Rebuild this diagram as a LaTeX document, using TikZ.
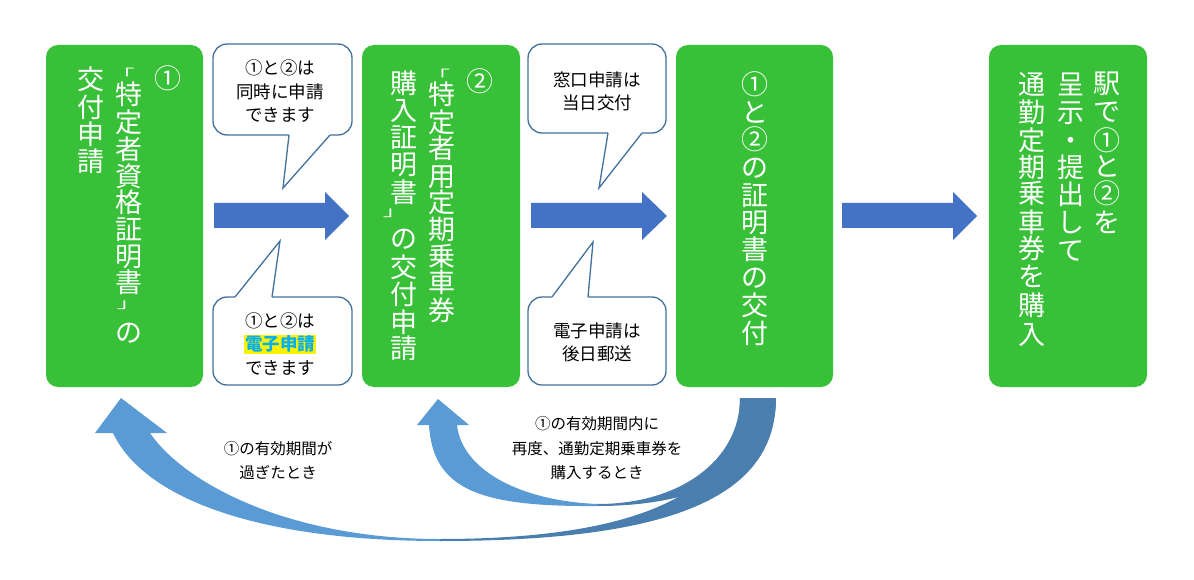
\documentclass[tikz,border=0pt]{standalone}
\usepackage{fontspec}
\usepackage{graphicx}
\setmainfont{Noto Sans CJK JP}
\setlength{\fboxsep}{1pt}
\definecolor{boxgreen}{RGB}{56,192,56}
\definecolor{arrowblue}{RGB}{68,114,196}
\definecolor{curvelight}{RGB}{91,155,213}
\definecolor{curvedark}{RGB}{74,126,174}
\definecolor{calloutline}{RGB}{65,113,156}
\definecolor{hlcyan}{RGB}{0,176,240}
\newcommand\smb[1]{\scalebox{0.9}[0.5]{#1}}
\tikzset{
  gbox/.style={fill=boxgreen, draw=none, rounded corners=12pt, inner sep=0pt},
  vt/.style={text=white, inner sep=0pt, font=\fontsize{27}{27}\selectfont, text height=23.8pt, text depth=3.2pt},
  cbox/.style={fill=white, draw=calloutline, line width=1.3pt, rounded corners=14pt, inner sep=0pt},
  ctext/.style={align=center, font=\fontsize{17.5}{23.5}\selectfont, inner sep=0pt},
  cline/.style={draw=calloutline, line width=1.3pt, line join=miter},
  lbl/.style={align=center, font=\fontsize{15.5}{24.5}\selectfont, inner sep=0pt},
}
\begin{document}
\begin{tikzpicture}[x=1pt,y=-1pt]
\useasboundingbox (0,0) rectangle (1194,580);

% green boxes
\node[gbox, minimum width=157, minimum height=342] (b1) at (124.5,216) {};
\node[gbox, minimum width=158, minimum height=342] (b2) at (441,216) {};
\node[gbox, minimum width=157, minimum height=342] (b3) at (754.5,216) {};
\node[gbox, minimum width=158, minimum height=342] (b4) at (1068,216) {};

% box 1 text
\node[vt] (b1n) at (167.5,78) {①};
\node[vt] (b1o) at (122.5,69) {\smb{「}};
\foreach \c/\y [count=\i] in {特/94,定/122,者/149,資/176,格/202,証/229,明/256,書/282,の/332}
  \node[vt] (b1a\i) at (128.5,\y) {\c};
\node[vt] (b1c) at (129,298) {\smb{」}};
\foreach \c/\y [count=\i] in {交/79,付/107,申/134,請/161}
  \node[vt] (b1b\i) at (91,\y) {\c};

% box 2 text
\node[vt] (b2n) at (480,81) {②};
\node[vt] (b2o) at (438,70.5) {\smb{「}};
\foreach \c/\y [count=\i] in {特/94,定/122,者/148,用/176,定/202,期/229,乗/256,車/282,券/310}
  \node[vt] (b2a\i) at (442,\y) {\c};
\foreach \c/\y [count=\i] in {購/83,入/110,証/137,明/164,書/192,の/238,交/267,付/294,申/322,請/348}
  \node[vt] (b2b\i) at (404,\y) {\c};
\node[vt] (b2c) at (395,206.5) {\smb{」}};

% box 3 text
\foreach \c/\y [count=\i] in {①/84,と/112,②/139,の/167,証/195,明/222,書/249,の/277,交/305,付/333}
  \node[vt] (b3a\i) at (754.5,\y) {\c};

% box 4 text
\foreach \c/\y [count=\i] in {駅/83,で/111,①/140,と/166,②/193,を/222}
  \node[vt] (b4a\i) at (1107,\y) {\c};
\foreach \c/\y [count=\i] in {呈/84,示/112,・/140,提/167,出/194,し/222,て/250}
  \node[vt] (b4b\i) at (1071,\y) {\c};
\foreach \c/\y [count=\i] in {通/84,勤/112,定/140,期/167,乗/193,車/222,券/248,を/276,購/305,入/334}
  \node[vt] (b4c\i) at (1032,\y) {\c};

% straight block arrows
\fill[arrowblue] (214,203) -- (325,203) -- (325,192) -- (349,216) -- (325,240) -- (325,228) -- (214,228) -- cycle;
\fill[arrowblue] (531,203) -- (642,203) -- (642,192) -- (667,216) -- (642,240) -- (642,228) -- (531,228) -- cycle;
\fill[arrowblue] (842,203) -- (953,203) -- (953,192) -- (977,216) -- (953,240) -- (953,228) -- (842,228) -- cycle;

% callouts
\node[cbox, minimum width=139, minimum height=91] (c1) at (282.5,89.5) {};
\coordinate (c1tip) at (283,188);
\fill[white] (289,130) -- (289,135) -- (c1tip) -- (330,135) -- (330,130) -- cycle;
\draw[cline] (289,135) -- (c1tip) -- (330,135);
\node[ctext] (c1t) at (280,91.5) {①と②は\\同時に申請\\できます};

\node[cbox, minimum width=139, minimum height=88] (c2) at (282.5,341) {};
\coordinate (c2tip) at (280,241);
\fill[white] (235,302) -- (235,297) -- (c2tip) -- (272,297) -- (272,302) -- cycle;
\draw[cline] (235,297) -- (c2tip) -- (272,297);
\node[ctext] (c2t) at (280,344) {①と②は\\\colorbox{yellow}{\color{hlcyan}\bfseries 電子申請}\\できます};

\node[cbox, minimum width=138, minimum height=89] (c3) at (597,88.5) {};
\coordinate (c3tip) at (599,188);
\fill[white] (608,128) -- (608,133) -- (c3tip) -- (642,133) -- (642,128) -- cycle;
\draw[cline] (608,133) -- (c3tip) -- (642,133);
\node[ctext] (c3t) at (597,91.5) {窓口申請は\\当日交付};

\node[cbox, minimum width=138, minimum height=88] (c4) at (597,341) {};
\coordinate (c4tip) at (593,242);
\fill[white] (552,302) -- (552,297) -- (c4tip) -- (588,297) -- (588,302) -- cycle;
\draw[cline] (552,297) -- (c4tip) -- (588,297);
\node[ctext] (c4t) at (597,342.5) {電子申請は\\後日郵送};

% big curved up arrow (back to box 1)
\fill[curvedark] (440,539) .. controls (640,539) and (740,492) .. (740,398) -- (776,398)
  .. controls (776,498) and (670,541) .. (440,541) -- cycle;
\fill[curvelight] (121,398) -- (167,433) -- (150,433) .. controls (185,484) and (290,539) .. (440,539)
  -- (440,541) .. controls (260,541) and (144.5,499.5) .. (113,433) -- (95,433) -- cycle;

% small curved up arrow (back to box 2)
\fill[curvedark] (598,504) .. controls (680,504) and (740,460) .. (740,398) -- (776,398)
  .. controls (776,470) and (700,506) .. (598,506) -- cycle;
\fill[curvelight] (438,399) -- (469,425) -- (457,425) .. controls (462,470) and (520,501) .. (598,504)
  -- (598,506) .. controls (480,507) and (433,490) .. (429,425) -- (417,425) -- cycle;

% labels
\node[lbl] (l1) at (278,460.5) {①の有効期間が\\過ぎたとき};
\node[lbl] (l2) at (597,448.5) {①の有効期間内に\\再度、通勤定期乗車券を\\購入するとき};
\end{tikzpicture}
\end{document}
